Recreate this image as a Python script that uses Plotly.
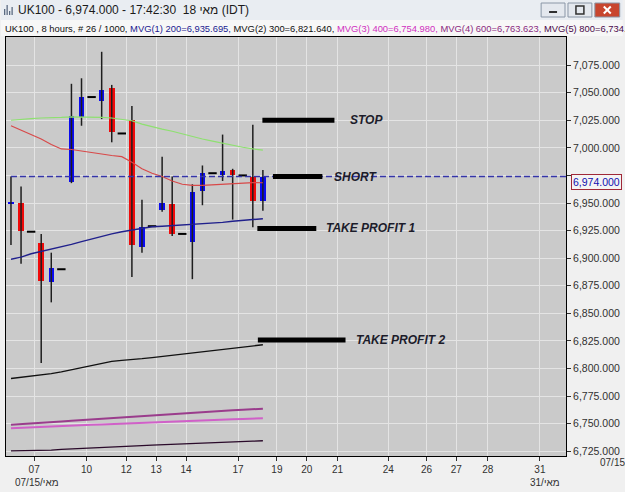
import plotly.graph_objects as go

# ---------------- data ----------------
bar_index = list(range(26))
opens  = [6949, 6950, 6924, 6914, 6878, 6890, 6969, 7028, 7046, 7042, 7054, 7013, 7025,
          6910, 6929, 6944, 6949, 6922, 6915, 6961, 6977, 6975, 6980, 6975, 6974, 6952]
highs  = [6974, 6965, 6924, 6922, 6905, 6890, 7058, 7063, 7046, 7087, 7057, 7013, 7038,
          6953, 6929, 6992, 6974, 6922, 6967, 6984, 6977, 7012, 6981, 6975, 7021, 6980]
lows   = [6912, 6895, 6924, 6805, 6860, 6890, 6968, 7020, 7046, 7026, 7005, 7013, 6883,
          6905, 6929, 6942, 6920, 6922, 6881, 6948, 6977, 6970, 6935, 6975, 6928, 6943]
closes = [6951, 6925, 6924, 6879, 6891, 6890, 7029, 7046, 7046, 7052, 7014, 7013, 6912,
          6928, 6929, 6950, 6922, 6922, 6960, 6977, 6977, 6979, 6975, 6975, 6952, 6974]

mvg1_200 = [6899, 6901, 6904, 6906, 6908, 6910, 6912.5, 6915, 6917.5, 6920, 6922, 6924, 6925.5,
            6927, 6928.5, 6929, 6929.5, 6930, 6930.5, 6931, 6932, 6932.5, 6933.5, 6934.5, 6935, 6935.7]
mvg2_300 = [6791, 6792, 6793, 6794, 6795.5, 6797, 6799, 6801, 6803, 6805, 6806.5, 6807.5, 6808,
            6809, 6810, 6811, 6812, 6813, 6814, 6815, 6816, 6817, 6818, 6819.5, 6820.5, 6821.6]
mvg3_400 = [6746, 6746.3, 6746.7, 6747, 6747.4, 6747.8, 6748.2, 6748.6, 6749, 6749.4, 6749.8, 6750.2, 6750.6,
            6751, 6751.4, 6751.7, 6752, 6752.3, 6752.7, 6753, 6753.3, 6753.6, 6754, 6754.3, 6754.7, 6755.0]
mvg4_600 = [6749, 6749.5, 6750, 6750.7, 6751.3, 6752, 6752.7, 6753.3, 6754, 6754.7, 6755.3, 6756, 6756.7,
            6757.3, 6758, 6758.5, 6759, 6759.5, 6760, 6760.5, 6761, 6761.7, 6762.2, 6762.7, 6763.2, 6763.6]
mvg5_800 = [6725.4, 6725.5, 6725.6, 6725.7, 6726.2, 6726.8, 6727.3, 6727.8, 6728.2, 6728.6, 6729, 6729.4, 6729.8,
            6730.2, 6730.6, 6730.9, 6731.2, 6731.5, 6731.8, 6732.1, 6732.5, 6733, 6733.4, 6733.8, 6734.2, 6734.6]
ma_green = [7025, 7026, 7026.5, 7027, 7027, 7027.5, 7028, 7028, 7028, 7027.6, 7027, 7026, 7024.5,
            7021.5, 7019, 7017, 7015, 7012.5, 7010, 7008, 7006, 7004, 7002, 7000.5, 6999, 6998]
ma_red   = [7020, 7016, 7012, 7008, 7003, 6999, 6998.5, 6997, 6995.5, 6994.5, 6993, 6992, 6987,
            6981, 6977, 6974, 6970, 6967, 6966, 6966, 6966.5, 6967, 6968, 6968.5, 6968.5, 6968.4]

last_price = 6974

level_names  = ["STOP", "SHORT", "TAKE PROFIT 1", "TAKE PROFIT 2"]
level_prices = [7025, 6974, 6927, 6826]
level_start  = [24.95, 26.0, 24.45, 24.5]
level_end    = [32.1, 30.9, 30.3, 33.2]
level_label_x = [33.4, 31.9, 31.1, 34.0]

x_tick_pos = [2.30, 7.50, 11.45, 14.41, 17.37, 22.54, 26.39, 29.35, 32.41, 37.44, 41.23, 44.20, 47.32, 52.49]
x_tick_lbl = ["07", "10", "12", "13", "14", "17", "19", "20", "21", "24", "26", "27", "28", "31"]
y_ticks = list(range(6725, 7076, 25))

X_RANGE = [-0.494, 55.08]
Y_RANGE = [6720.8, 7100.4]

# --------------- figure ----------------
W, H = 625, 492
ML, MR, MT, MB = 5, 57, 37, 36
PW, PH = W - ML - MR, H - MT - MB


def px(x):
    return (x - ML) / PW


def py(y):
    return (H - MB - y) / PH


fig = go.Figure()

# wicks
wx, wy = [], []
for i, h, l in zip(bar_index, highs, lows):
    if h > l:
        wx += [i, i, None]
        wy += [l, h, None]
fig.add_trace(go.Scatter(x=wx, y=wy, mode="lines", line=dict(color="#1e1e1e", width=1.5),
                         hoverinfo="skip", showlegend=False))

# bodies
bx, bbase, bh, bcol = [], [], [], []
dx, dy = [], []
for i, o, c in zip(bar_index, opens, closes):
    if o == c:
        dx.append(i)
        dy.append(o)
    else:
        bx.append(i)
        bbase.append(min(o, c))
        bh.append(abs(c - o))
        bcol.append("#0a0af0" if c > o else "#f00a0a")
fig.add_trace(go.Bar(x=bx, y=bh, base=bbase, width=0.55, marker=dict(color=bcol, line=dict(width=0)),
                     showlegend=False, hoverinfo="skip"))
fig.add_trace(go.Scatter(x=dx, y=dy, mode="markers",
                         marker=dict(symbol="line-ew", size=6, line=dict(color="#000000", width=2)),
                         showlegend=False, hoverinfo="skip"))

# moving averages
for vals, col, w in [(ma_green, "#8ee070", 1.2), (ma_red, "#d84848", 1.1),
                     (mvg1_200, "#20208c", 1.4), (mvg2_300, "#101010", 1.3),
                     (mvg3_400, "#d060c8", 2.0), (mvg4_600, "#9a3c8c", 2.0),
                     (mvg5_800, "#2a0a2a", 1.3)]:
    fig.add_trace(go.Scatter(x=bar_index, y=vals, mode="lines", line=dict(color=col, width=w),
                             showlegend=False, hoverinfo="skip"))

# last price dashed line
fig.add_trace(go.Scatter(x=[bar_index[0], X_RANGE[1]], y=[last_price, last_price], mode="lines",
                         line=dict(color="#3535a8", width=1.5, dash="6px,3px"),
                         showlegend=False, hoverinfo="skip"))

# level markers
for name, p, x0, x1, lx in zip(level_names, level_prices, level_start, level_end, level_label_x):
    fig.add_trace(go.Scatter(x=[x0, x1], y=[p, p], mode="lines", line=dict(color="#000000", width=5),
                             showlegend=False, hoverinfo="skip"))
    fig.add_annotation(x=lx, y=p, text=f"<b><i>{name}</i></b>", showarrow=False, xanchor="left",
                       yanchor="middle", font=dict(family="Liberation Sans, Arial", size=12, color="#1c1c2a"))

y_text = [("" if v == 6975 else f"{v:,.3f}") for v in y_ticks]

fig.update_layout(
    width=W, height=H, margin=dict(l=ML, r=MR, t=MT, b=MB, pad=0),
    paper_bgcolor="#f0f0f0", plot_bgcolor="#cacaca",
    font=dict(family="Liberation Sans, Arial", size=11, color="#303030"),
    bargap=0, showlegend=False,
    xaxis=dict(range=X_RANGE, tickvals=x_tick_pos, ticktext=x_tick_lbl, showgrid=True,
               gridcolor="#e4e4e4", gridwidth=1, zeroline=False, showline=True, linecolor="#000000",
               linewidth=1, mirror=True, ticks="outside", ticklen=4, tickcolor="#303030",
               tickfont=dict(size=10, color="#303030"), fixedrange=True),
    yaxis=dict(range=Y_RANGE, side="right", tickvals=y_ticks, ticktext=y_text, showgrid=True,
               gridcolor="#e4e4e4", gridwidth=1, zeroline=False, showline=True, linecolor="#000000",
               linewidth=1, mirror=True, ticks="outside", ticklen=4, tickcolor="#303030",
               tickfont=dict(size=10.5, color="#303030"), fixedrange=True),
)

# last price label box
fig.add_annotation(xref="paper", x=1, y=last_price, xanchor="left", yanchor="middle", xshift=5, yshift=-5,
                   text="6,974.000", showarrow=False, font=dict(size=10.5, color="#1010b0"),
                   bordercolor="#a02838", borderwidth=1, borderpad=1, bgcolor="#f4f4f4")

# ------------- window chrome -------------
fig.add_shape(type="rect", xref="paper", yref="paper", x0=px(0), x1=px(W), y0=py(20), y1=py(0),
              fillcolor="#e9edf2", line=dict(width=0), layer="below")
fig.add_shape(type="rect", xref="paper", yref="paper", x0=px(0), x1=px(W), y0=py(36), y1=py(20),
              fillcolor="#f7f7f7", line=dict(width=0), layer="below")
# icon
for k, hh in enumerate([6, 10, 4, 8]):
    fig.add_shape(type="rect", xref="paper", yref="paper", x0=px(3 + 2.5 * k), x1=px(4.3 + 2.5 * k),
                  y0=py(15), y1=py(15 - hh), fillcolor="#5a6a80", line=dict(width=0))
fig.add_annotation(xref="paper", yref="paper", x=px(15), y=py(10), xanchor="left", yanchor="middle",
                   text="UK100 - 6,974.000 - 17:42:30  18 מאי (IDT)", showarrow=False,
                   font=dict(family="Liberation Sans, Arial", size=12, color="#1a1a1a"))
# buttons
for (x0, x1, fill) in [(543, 567, "#e4e8ee"), (570, 594, "#e4e8ee"), (597, 622, "#c8452e")]:
    fig.add_shape(type="rect", xref="paper", yref="paper", x0=px(x0), x1=px(x1), y0=py(17), y1=py(3),
                  fillcolor=fill, line=dict(color="#8a96a6", width=1))
fig.add_shape(type="line", xref="paper", yref="paper", x0=px(551), x1=px(559), y0=py(12), y1=py(12),
              line=dict(color="#303030", width=2))
fig.add_shape(type="rect", xref="paper", yref="paper", x0=px(578), x1=px(586), y0=py(14), y1=py(6),
              line=dict(color="#303030", width=1.5))
fig.add_shape(type="line", xref="paper", yref="paper", x0=px(606), x1=px(613), y0=py(6.5), y1=py(13.5),
              line=dict(color="#ffffff", width=2))
fig.add_shape(type="line", xref="paper", yref="paper", x0=px(606), x1=px(613), y0=py(13.5), y1=py(6.5),
              line=dict(color="#ffffff", width=2))

hdr = ("UK100 , 8 hours, # 26 / 1000, "
       "<span style='color:#1a1a90'>MVG(1) 200=6,935.695, </span>"
       "MVG(2) 300=6,821.640, "
       "<span style='color:#d030c0'>MVG(3) 400=6,754.980, </span>"
       "<span style='color:#8a2a80'>MVG(4) 600=6,763.623, </span>"
       "<span style='color:#4a0a4a'>MVG(5) 800=6,734.6</span>")
fig.add_annotation(xref="paper", yref="paper", x=px(2), y=py(28), xanchor="left", yanchor="middle",
                   text=hdr, showarrow=False,
                   font=dict(family="Liberation Sans Narrow, Arial Narrow, Liberation Sans", size=9.4,
                             color="#101010"))

# bottom date labels
fig.add_annotation(xref="paper", yref="paper", x=px(12), y=py(482), xanchor="left", yanchor="middle",
                   text="07/מאי/15", showarrow=False, font=dict(size=10, color="#303030"))
fig.add_annotation(xref="paper", yref="paper", x=px(530), y=py(482), xanchor="left", yanchor="middle",
                   text="31/מאי", showarrow=False, font=dict(size=10, color="#303030"))
fig.add_annotation(xref="paper", yref="paper", x=px(600), y=py(462), xanchor="left", yanchor="middle",
                   text="07/מאי/15", showarrow=False, font=dict(size=10, color="#303030"))

fig.write_html("out.html")
